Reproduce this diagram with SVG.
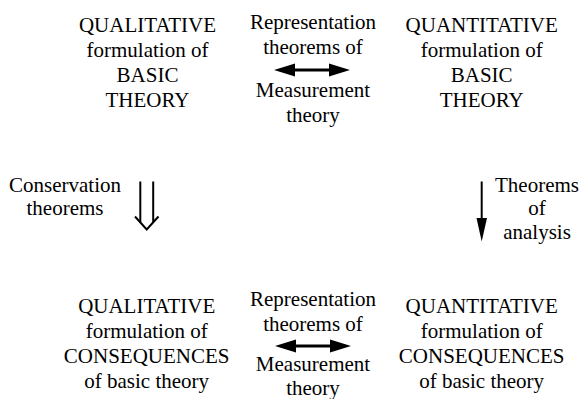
<svg xmlns="http://www.w3.org/2000/svg" width="580" height="399" viewBox="0 0 580 399">
<style>
text{font-family:"Liberation Serif","Times New Roman",serif;font-size:21px;fill:#000;text-anchor:middle}
.ln{stroke:#000;fill:none}
.hd{fill:#000;stroke:none}
</style>
<rect width="580" height="399" fill="#fff"/>
<g id="qual-basic">
<text x="147.5" y="32">QUALITATIVE</text>
<text x="147.5" y="57">formulation of</text>
<text x="147.5" y="82">BASIC</text>
<text x="147.5" y="107">THEORY</text>
</g>
<g id="quant-basic">
<text x="481.7" y="32">QUANTITATIVE</text>
<text x="481.7" y="57">formulation of</text>
<text x="481.7" y="82">BASIC</text>
<text x="481.7" y="107">THEORY</text>
</g>
<g id="qual-cons">
<text x="146.7" y="313">QUALITATIVE</text>
<text x="146.7" y="338">formulation of</text>
<text x="146.7" y="363">CONSEQUENCES</text>
<text x="146.7" y="388">of basic theory</text>
</g>
<g id="quant-cons">
<text x="481.7" y="313">QUANTITATIVE</text>
<text x="481.7" y="338">formulation of</text>
<text x="481.7" y="363">CONSEQUENCES</text>
<text x="481.7" y="388">of basic theory</text>
</g>
<g id="connectors">
<g id="rep-top">
<line class="ln" x1="290" y1="70" x2="334" y2="70" stroke-width="3"/>
<polygon class="hd" points="274,70 295,63.5 295,76.5"/>
<polygon class="hd" points="350,70 329,63.5 329,76.5"/>
<text x="313" y="29">Representation</text>
<text x="313" y="54">theorems of</text>
<text x="313" y="97">Measurement</text>
<text x="313" y="122">theory</text>
</g>
<g id="rep-bottom">
<line class="ln" x1="291" y1="346" x2="335" y2="346" stroke-width="3"/>
<polygon class="hd" points="275,346 296,339.5 296,352.5"/>
<polygon class="hd" points="351,346 330,339.5 330,352.5"/>
<text x="313" y="306">Representation</text>
<text x="313" y="331">theorems of</text>
<text x="313" y="371">Measurement</text>
<text x="313" y="395">theory</text>
</g>
<g id="conservation">
<line class="ln" x1="140.3" y1="181.5" x2="140.3" y2="222.5" stroke-width="2"/>
<line class="ln" x1="153.2" y1="181.5" x2="153.2" y2="222.5" stroke-width="2"/>
<polyline class="ln" points="135,216.5 146.7,229.5 158.5,216.5" stroke-width="2"/>
<text x="65" y="191.5">Conservation</text>
<text x="65" y="215">theorems</text>
</g>
<g id="analysis">
<line class="ln" x1="481.7" y1="181.5" x2="481.7" y2="220" stroke-width="2"/>
<polygon class="hd" points="476.5,218 487,218 481.7,241.5"/>
<text x="537" y="191.5">Theorems</text>
<text x="537" y="215">of</text>
<text x="537" y="238.5">analysis</text>
</g>
</g>
</svg>
